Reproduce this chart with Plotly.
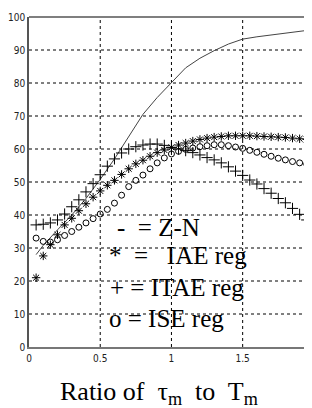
import plotly.graph_objects as go

# ---- data ----
x_pts = [0.05, 0.10, 0.15, 0.20, 0.25, 0.30, 0.35, 0.40, 0.45, 0.50,
         0.55, 0.60, 0.65, 0.70, 0.75, 0.80, 0.85, 0.90, 0.95, 1.00,
         1.05, 1.10, 1.15, 1.20, 1.25, 1.30, 1.35, 1.40, 1.45, 1.50,
         1.55, 1.60, 1.65, 1.70, 1.75, 1.80, 1.85, 1.90, 1.95, 2.00]

iae = [21.0, 27.6, 31.0, 34.0, 37.0, 39.0, 41.3, 43.4, 45.4, 47.3,
       49.0, 50.5, 52.3, 54.0, 55.5, 56.6, 57.8, 58.9, 59.7, 60.5,
       61.2, 61.8, 62.4, 62.9, 63.3, 63.6, 63.8, 64.0, 64.0, 64.0,
       64.0, 63.9, 63.8, 63.7, 63.6, 63.5, 63.3, 63.1, 62.9, 62.7]

itae = [37.0, 37.2, 37.6, 38.5, 40.3, 42.5, 44.6, 47.0, 49.5, 52.2,
        54.8, 57.0, 58.8, 60.0, 60.7, 61.2, 61.5, 61.5, 61.1, 60.5,
        60.0, 59.5, 58.9, 58.2, 57.4, 56.7, 55.8, 54.6, 53.3, 52.0,
        50.6, 49.4, 48.0, 46.6, 45.0, 43.7, 42.0, 40.2, 38.5, 37.0]

ise = [33.0, 32.0, 31.8, 32.5, 33.8, 35.0, 36.3, 37.6, 38.9, 40.3,
       41.7, 43.6, 46.0, 48.6, 50.5, 52.1, 54.0, 55.8, 57.3, 58.5,
       59.3, 59.9, 60.3, 60.7, 61.0, 61.3, 61.3, 61.0, 60.6, 60.2,
       59.6, 59.0, 58.4, 57.8, 57.2, 56.7, 56.2, 55.8, 55.4, 55.0]

zn_x = [0.05, 0.1, 0.2, 0.3, 0.4, 0.5, 0.6, 0.7, 0.8, 0.9, 1.0,
        1.1, 1.2, 1.3, 1.4, 1.5, 1.6, 1.7, 1.8, 1.9, 2.0]
zn = [28.0, 30.8, 35.5, 40.0, 45.0, 50.8, 57.0, 63.8, 70.5, 75.6, 80.2,
      84.6, 87.5, 89.8, 91.8, 93.3, 94.0, 94.6, 95.2, 95.7, 96.2]

x_ticks = [0, 0.5, 1, 1.5, 2]
x_tick_text = ["0", "0.5", "1", "1.5", "2"]
y_ticks = [0, 10, 20, 30, 40, 50, 60, 70, 80, 90, 100]

legend_lines = ["-  = Z-N", "*  =   IAE reg", "+ = ITAE reg", "o = ISE reg"]
x_title = "Ratio of  τ<sub>m</sub>  to  T<sub>m</sub>"

# ---- figure geometry (page has an 8px body margin; compensate) ----
W, H = 312, 408
L, R, T, B = 19, 0, 9, 69
XMAX = 2.043

tick_font = dict(family="Liberation Sans Narrow, Arial Narrow, DejaVu Sans Condensed, sans-serif",
                 size=10, color="#222")
serif = "Liberation Serif, Times New Roman, serif"

fig = go.Figure()
fig.add_trace(go.Scatter(x=zn_x, y=zn, mode="lines",
                         line=dict(color="#444", width=1), showlegend=False))
fig.add_trace(go.Scatter(x=x_pts, y=iae, mode="markers",
                         marker=dict(symbol="asterisk-open", size=7, color="black",
                                     line=dict(color="black", width=1)),
                         showlegend=False))
fig.add_trace(go.Scatter(x=x_pts, y=itae, mode="markers",
                         marker=dict(symbol="cross-thin-open", size=8, color="black",
                                     line=dict(color="black", width=1)),
                         showlegend=False))
fig.add_trace(go.Scatter(x=x_pts, y=ise, mode="markers",
                         marker=dict(symbol="circle-open", size=6, color="black",
                                     line=dict(color="black", width=1)),
                         showlegend=False))

fig.update_layout(
    width=W, height=H,
    margin=dict(l=L, r=R, t=T, b=B, pad=0),
    paper_bgcolor="white", plot_bgcolor="white",
    showlegend=False,
    xaxis=dict(range=[0, XMAX], tickvals=x_ticks, ticktext=x_tick_text,
               showgrid=False, zeroline=False, showline=True,
               linecolor="#777", linewidth=2,
               ticks="", tickfont=tick_font, ticklabelstandoff=1),
    yaxis=dict(range=[0, 100], tickvals=y_ticks,
               showgrid=False, zeroline=False, showline=True,
               linecolor="#555", linewidth=1.5,
               ticks="", tickfont=tick_font, ticklabelstandoff=0),
)

# dashed grid drawn from the tick arrays
grid_line = dict(color="black", width=1, dash="3px,3px")
for xv in x_ticks[1:]:
    fig.add_shape(type="line", xref="x", yref="paper", x0=xv, x1=xv, y0=0, y1=1,
                  line=grid_line, layer="below")
for yv in y_ticks[1:-1]:
    fig.add_shape(type="line", xref="paper", yref="y", x0=0, x1=1, y0=yv, y1=yv,
                  line=grid_line, layer="below")

# top frame line
fig.add_shape(type="line", xref="paper", yref="paper", x0=0, x1=1, y0=1, y1=1,
              line=dict(color="#555", width=1.5))

PW = W - L - R
PH = H - T - B

# x-axis title
fig.add_annotation(text=x_title, xref="paper", yref="paper",
                   x=(150 - L) / PW, y=((H - B) - 384.5) / PH,
                   xanchor="center", yanchor="middle", showarrow=False,
                   font=dict(family=serif, size=26, color="black"))

# legend text lines
leg_y_px = [219, 247.5, 279, 310]
leg_x_px = [106, 97.5, 98.5, 98]
for txt, ypx, xpx in zip(legend_lines, leg_y_px, leg_x_px):
    fig.add_annotation(text=txt, xref="paper", yref="paper",
                       x=(xpx - L) / PW, y=((H - B) - ypx) / PH,
                       xanchor="left", yanchor="middle", showarrow=False,
                       font=dict(family=serif, size=25, color="black"))

fig.write_html("out.html")
